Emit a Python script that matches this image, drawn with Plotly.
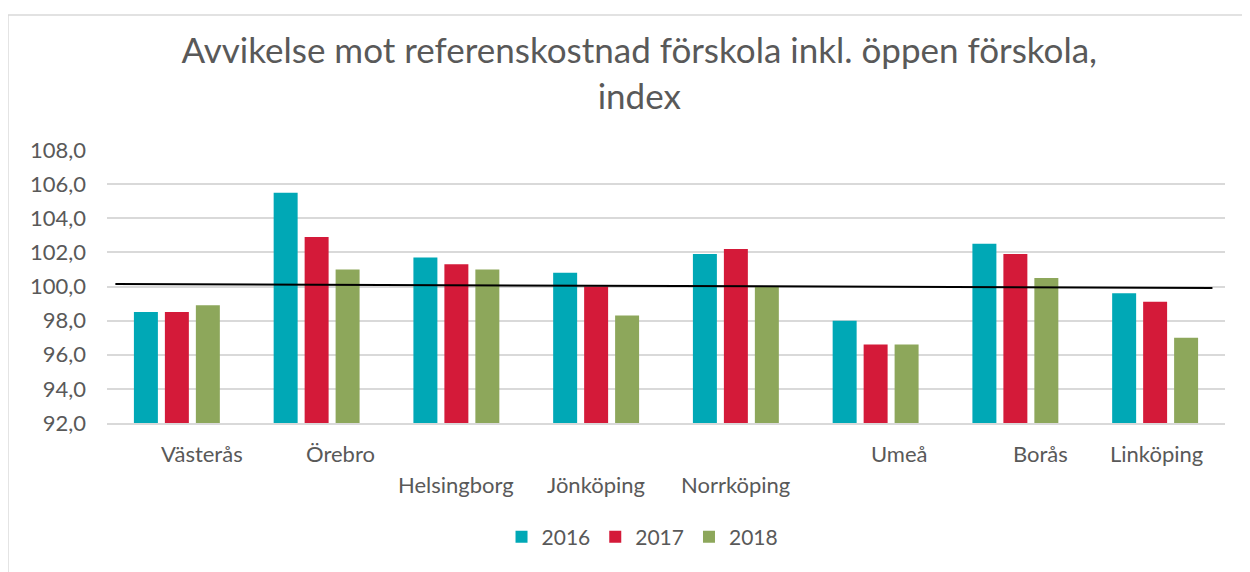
import plotly.graph_objects as go

categories = ["Västerås", "Örebro", "Helsingborg", "Jönköping", "Norrköping", "Umeå", "Borås", "Linköping"]
years = ["2016", "2017", "2018"]
v2016 = [98.5, 105.5, 101.7, 100.8, 101.9, 98.0, 102.5, 99.6]
v2017 = [98.5, 102.9, 101.3, 100.0, 102.2, 96.6, 101.9, 99.1]
v2018 = [98.9, 101.0, 101.0, 98.3, 100.0, 96.6, 100.5, 97.0]
trend_values = [100.15, 99.91]
y_ticks = [92, 94, 96, 98, 100, 102, 104, 106, 108]

colors = ["#00A8B6", "#D41A39", "#8DA75B"]
label_font = "Lato, 'Open Sans', sans-serif"
grey = "#595959"

x_idx = list(range(len(categories)))
fig = go.Figure()
for name, vals, col in zip(years, [v2016, v2017, v2018], colors):
    fig.add_trace(go.Bar(x=x_idx, y=vals, name=name, marker=dict(color=col, line=dict(width=0))))

# trend line spanning nearly full plot width
fig.add_trace(go.Scatter(x=[-0.44, len(categories) - 1 + 0.41], y=trend_values, mode="lines",
                         line=dict(color="black", width=2), showlegend=False, hoverinfo="skip"))

# staggered category labels
label_offsets = [0.18, 0.17, 0.0, 0.0, 0.0, 0.17, 0.18, 0.01]
label_rows = [0, 0, 1, 1, 1, 0, 0, 0]
for i, (cat, off, row) in enumerate(zip(categories, label_offsets, label_rows)):
    fig.add_annotation(x=i + off, y=-0.113 - 0.113 * row, xref="x", yref="paper",
                       text=cat, showarrow=False, xanchor="center", yanchor="middle",
                       font=dict(family=label_font, size=22, color=grey))

fig.update_layout(
    width=1250, height=572,
    margin=dict(l=99, r=33, t=142, b=157),
    paper_bgcolor="white", plot_bgcolor="white",
    separators=", ",
    barmode="group", bargap=0.335, bargroupgap=0.226,
    title=dict(text="Avvikelse mot referenskostnad förskola inkl. öppen förskola,<br>index",
               x=0.505, xanchor="center", y=0.903, yanchor="middle",
               font=dict(family=label_font, size=35, color=grey)),
    legend=dict(orientation="h", x=0.479, xanchor="center", y=-0.418, yanchor="middle",
                font=dict(family=label_font, size=21, color=grey), traceorder="normal",
                itemwidth=30),
    showlegend=True,
    shapes=[dict(type="rect", xref="paper", yref="paper", x0=-0.0886, x1=1.2, y0=-1, y1=1.4945,
                 line=dict(color="#D9D9D9", width=1.5), fillcolor="rgba(0,0,0,0)", layer="below")],
)
fig.update_xaxes(range=[-0.5, len(categories) - 0.5], showticklabels=False, showgrid=False,
                 zeroline=False, showline=True, linecolor="#D9D9D9", linewidth=1.5)
fig.update_yaxes(range=[92, 108], tickvals=y_ticks, tickformat=".1f", showgrid=True,
                 gridcolor="#D9D9D9", gridwidth=1.5, zeroline=False,
                 tickfont=dict(family=label_font, size=22, color=grey), ticklabelstandoff=20)

fig.write_html("out.html")
